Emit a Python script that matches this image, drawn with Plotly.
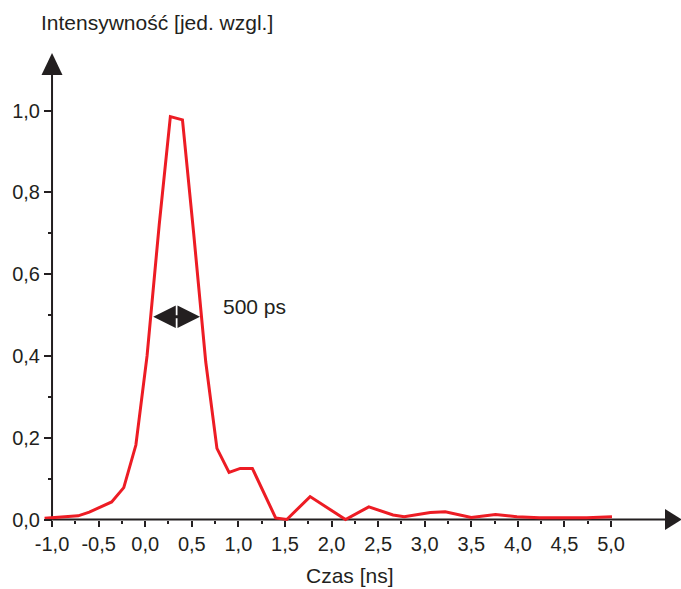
import plotly.graph_objects as go

# ---- data ----
time_ns = [-1.08, -0.72, -0.60, -0.36, -0.23, -0.10, 0.02, 0.15, 0.27, 0.40,
           0.52, 0.65, 0.77, 0.90, 1.02, 1.15, 1.40, 1.52, 1.77, 2.15,
           2.40, 2.66, 2.78, 3.06, 3.22, 3.50, 3.76, 3.99, 4.23, 4.74, 5.01]
intensity = [0.003, 0.009, 0.018, 0.043, 0.078, 0.182, 0.40, 0.72, 0.985, 0.977,
             0.70, 0.385, 0.174, 0.115, 0.125, 0.125, 0.004, 0.0, 0.056, 0.0,
             0.031, 0.011, 0.007, 0.017, 0.019, 0.005, 0.012, 0.007, 0.004, 0.004, 0.007]

x_tick_vals = [-1.0, -0.5, 0.0, 0.5, 1.0, 1.5, 2.0, 2.5, 3.0, 3.5, 4.0, 4.5, 5.0]
x_tick_text = ["-1,0", "-0,5", "0,0", "0,5", "1,0", "1,5", "2,0", "2,5",
               "3,0", "3,5", "4,0", "4,5", "5,0"]
x_minor_vals = [-0.75, -0.25, 0.25, 0.75, 1.25, 1.75, 2.25, 2.75, 3.25, 3.75, 4.25, 4.75]
y_tick_vals = [0.0, 0.2, 0.4, 0.6, 0.8, 1.0]
y_tick_text = ["0,0", "0,2", "0,4", "0,6", "0,8", "1,0"]
y_minor_vals = [0.1, 0.3, 0.5, 0.7]

fwhm_start, fwhm_end, fwhm_level = 0.07, 0.588, 0.496
fwhm_label = "500 ps"
x_title = "Czas [ns]"
y_title = "Intensywność [jed. wzgl.]"

# ---- geometry ----
W, H = 681, 589
X0PX, XSCALE = 145.2, 93.17   # pixel of x=0, pixels per ns
Y0PX, YSCALE = 519.5, 409.0   # pixel of y=0, pixels per unit
xr = [(0 - X0PX) / XSCALE, (W - X0PX) / XSCALE]
yr = [(Y0PX - H) / YSCALE, Y0PX / YSCALE]

def px2x(p):
    return (p - X0PX) / XSCALE

def px2y(p):
    return (Y0PX - p) / YSCALE

AX = "#231f20"
RED = "#ed1c24"
FONT = "Liberation Sans, Arial, sans-serif"

fig = go.Figure()
fig.add_trace(go.Scatter(x=time_ns, y=intensity, mode="lines",
                         line=dict(color=RED, width=3), hoverinfo="skip",
                         showlegend=False))

xmin = x_tick_vals[0]
shapes = [
    # x axis line
    dict(type="line", xref="x", yref="y", x0=xmin, y0=0, x1=px2x(668), y1=0,
         line=dict(color=AX, width=2), layer="below"),
    # y axis line
    dict(type="line", xref="x", yref="y", x0=xmin, y0=0, x1=xmin, y1=px2y(70),
         line=dict(color=AX, width=2), layer="below"),
    # x arrowhead
    dict(type="path", xref="x", yref="y",
         path=f"M {px2x(665)},{px2y(509)} L {px2x(682)},0 L {px2x(665)},{px2y(530)} Z",
         fillcolor=AX, line=dict(color=AX, width=0)),
    # y arrowhead
    dict(type="path", xref="x", yref="y",
         path=f"M {px2x(41.5)},{px2y(75)} L {xmin},{px2y(53)} L {px2x(62.5)},{px2y(75)} Z",
         fillcolor=AX, line=dict(color=AX, width=0)),
]

annotations = [
    dict(x=fwhm_end, y=fwhm_level, ax=fwhm_start, ay=fwhm_level, xref="x", yref="y",
         axref="x", ayref="y", text="", showarrow=True, arrowhead=2, startarrowhead=2,
         arrowside="end+start", arrowsize=1.5, startarrowsize=1.5, arrowwidth=3,
         arrowcolor=AX),
    dict(x=1.17, y=0.52, xref="x", yref="y", text=fwhm_label, showarrow=False,
         xanchor="center", yanchor="middle",
         font=dict(family=FONT, size=21, color=AX)),
    dict(x=350 / W, y=1 - 575 / H, xref="paper", yref="paper", text=x_title,
         xanchor="center", yanchor="middle",
         showarrow=False, font=dict(family=FONT, size=21, color=AX)),
    dict(x=39 / W, y=1 - 22 / H, xref="paper", yref="paper", text=y_title,
         xanchor="left", yanchor="middle",
         showarrow=False, font=dict(family=FONT, size=21, color=AX)),
]

fig.update_layout(
    width=W, height=H, margin=dict(l=0, r=0, t=0, b=0),
    paper_bgcolor="white", plot_bgcolor="white",
    font=dict(family=FONT, size=20, color=AX),
    shapes=shapes, annotations=annotations,
    xaxis=dict(range=xr, anchor="free", position=1 - Y0PX / H,
               showgrid=False, zeroline=False, showline=False,
               tickmode="array", tickvals=x_tick_vals, ticktext=x_tick_text,
               ticks="outside", ticklen=6, tickwidth=1.5, tickcolor=AX,
               minor=dict(tickmode="array", tickvals=x_minor_vals, ticks="outside",
                          ticklen=3, tickwidth=1.5, tickcolor=AX, showgrid=False),
               tickfont=dict(family=FONT, size=20, color=AX), automargin=False,
               fixedrange=True),
    yaxis=dict(range=yr, anchor="free", position=52 / W,
               showgrid=False, zeroline=False, showline=False,
               tickmode="array", tickvals=y_tick_vals, ticktext=y_tick_text,
               ticks="outside", ticklen=8, tickwidth=1.5, tickcolor=AX,
               minor=dict(tickmode="array", tickvals=y_minor_vals, ticks="outside",
                          ticklen=4, tickwidth=1.5, tickcolor=AX, showgrid=False),
               tickfont=dict(family=FONT, size=20, color=AX), automargin=False,
               fixedrange=True),
)

fig.write_html("out.html", config={"displayModeBar": False},
               post_script="document.body.style.margin='0';document.body.style.overflow='hidden';")
